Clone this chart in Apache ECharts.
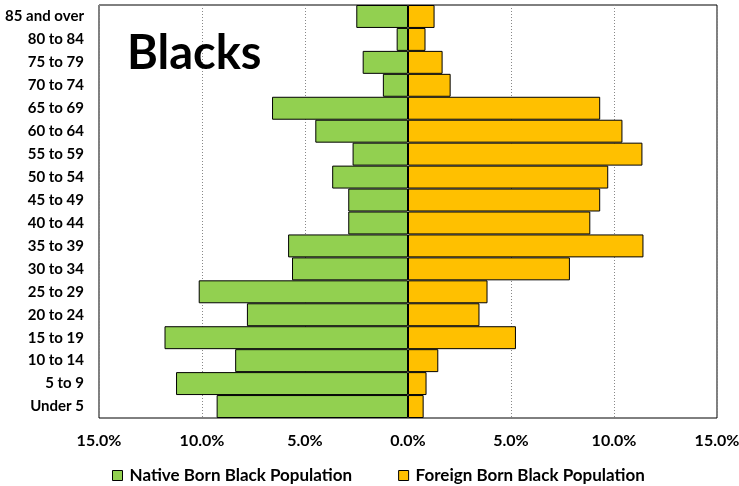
<!DOCTYPE html>
<html><head><meta charset="utf-8">
<script src="https://cdn.jsdelivr.net/npm/echarts@6/dist/echarts.min.js"></script>
<style>html,body{margin:0;padding:0;background:#fff}#c{width:739px;height:486px}</style>
</head><body><div id="c"></div>
<script>
const categories = ["Under 5","5 to 9","10 to 14","15 to 19","20 to 24","25 to 29","30 to 34","35 to 39","40 to 44","45 to 49","50 to 54","55 to 59","60 to 64","65 to 69","70 to 74","75 to 79","80 to 84","85 and over"];
const nativeBorn = [9.29,11.26,8.39,11.82,7.82,10.16,5.63,5.82,2.9,2.9,3.68,2.69,4.5,6.6,1.22,2.2,0.55,2.51];
const foreignBorn = [0.76,0.9,1.47,5.24,3.47,3.86,7.86,11.43,8.85,9.33,9.72,11.38,10.41,9.33,2.07,1.68,0.85,1.29];
const xTicks = [-15,-10,-5,0,5,10,15];
const seriesNames = ["Native Born Black Population","Foreign Born Black Population"];
const FONT = 'Lato,sans-serif';
const chart = echarts.init(document.getElementById('c'));
chart.setOption({
  animation:false,
  textStyle:{fontFamily:FONT},
  grid:{left:99,right:22,top:5,bottom:68,containLabel:false,outerBoundsMode:'none',show:true,borderColor:'#000',borderWidth:1,backgroundColor:'transparent'},
  title:{text:'Blacks',left:122,top:25,textStyle:{fontFamily:FONT,fontSize:47,fontWeight:'bold',color:'#000'}},
  legend:{top:462,left:107,itemGap:46,itemWidth:10,itemHeight:10,icon:'rect',
    itemStyle:{borderColor:'#000',borderWidth:1},
    textStyle:{fontFamily:FONT,fontSize:17,fontWeight:'bold',color:'#000',padding:[0,0,0,2]},data:seriesNames},
  xAxis:{type:'value',min:xTicks[0],max:xTicks[xTicks.length-1],interval:5,
    axisLine:{show:false},axisTick:{show:false},
    axisLabel:{margin:15,fontFamily:FONT,fontSize:16,fontWeight:'bold',color:'#000',formatter:v=>Math.abs(v).toFixed(1)+'%'},
    splitLine:{show:true,lineStyle:{color:'#888',type:[1,2],width:1}}},
  yAxis:{type:'category',data:categories,axisLine:{show:false},axisTick:{show:false},
    axisLabel:{margin:15,fontFamily:FONT,fontSize:15,fontWeight:'bold',color:'#000'}},
  series:[
    {name:seriesNames[0],type:'bar',stack:'p',barCategoryGap:'0%',data:nativeBorn.map(v=>-v),
     itemStyle:{color:'#92D050',borderColor:'#000',borderWidth:1}},
    {name:seriesNames[1],type:'bar',stack:'p',barCategoryGap:'0%',data:foreignBorn,
     itemStyle:{color:'#FFC000',borderColor:'#000',borderWidth:1}}
  ]
});
</script></body></html>
